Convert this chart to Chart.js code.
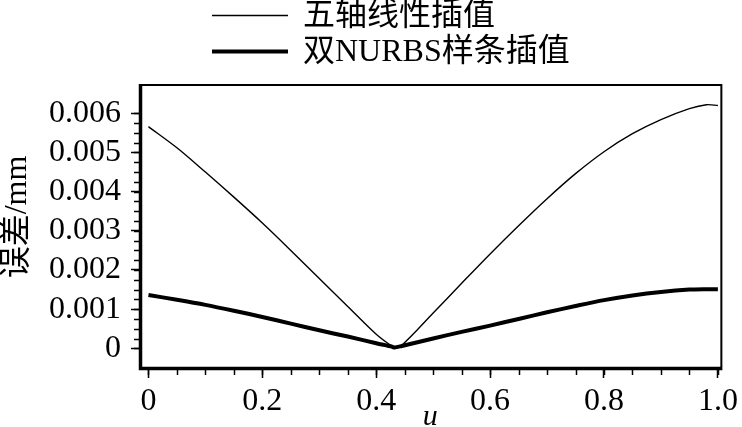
<!DOCTYPE html>
<html>
<head>
<meta charset="utf-8">
<script src="https://cdn.jsdelivr.net/npm/chart.js@4.4.1/dist/chart.umd.min.js"></script>
<style>
    body { margin: 0; background: #fff; }
</style>
</head>
<body>
<canvas id="myChart" width="742" height="427"></canvas>
<script>
// data
const uValues = [0, 0.05, 0.1, 0.15, 0.2, 0.25, 0.3, 0.35, 0.4, 0.428, 0.432, 0.445, 0.5, 0.55, 0.6, 0.65, 0.7, 0.75, 0.8, 0.85, 0.9, 0.95, 0.98, 1.0]
const linearError = [0.00566, 0.00512, 0.00450, 0.00386, 0.00320, 0.00250, 0.00178, 0.00107, 0.00036, 0.00005, 0.00004, 0.00008, 0.00090, 0.00166, 0.00241, 0.00313, 0.00382, 0.00446, 0.00502, 0.00548, 0.00584, 0.00612, 0.00622, 0.00620]
const nurbsError = [0.00136, 0.00124, 0.00111, 0.00096, 0.00080, 0.00063, 0.00046, 0.00030, 0.00013, 0.00004, 0.00002, 0.00006, 0.00025, 0.00042, 0.00058, 0.00075, 0.00092, 0.00108, 0.00123, 0.00135, 0.00144, 0.00150, 0.00151, 0.00151]
const seriesNames = ['五轴线性插值', '双NURBS样条插值']

const xTicks = [0, 0.2, 0.4, 0.6, 0.8, 1.0]
const xTickLabels = ['0', '0.2', '0.4', '0.6', '0.8', '1.0']
const yTicks = [0, 0.001, 0.002, 0.003, 0.004, 0.005, 0.006]
const yTickLabels = ['0', '0.001', '0.002', '0.003', '0.004', '0.005', '0.006']
const yTitle = '误差/mm'

const fontFamily = '"Liberation Serif", "Noto Sans CJK SC", serif'

// frame, minor ticks, y title and the legend
const framePlugin = {
    id: 'frame',
    afterDraw(chart) {
        const ctx = chart.ctx
        const area = chart.chartArea
        const xs = chart.scales.x
        const ys = chart.scales.y
        ctx.save()
        ctx.strokeStyle = '#000'
        ctx.fillStyle = '#000'

        // minor ticks
        ctx.lineWidth = 1.5
        ctx.beginPath()
        for (let v = 0; v <= 1.0001; v += 0.05) {
            const px = Math.round(xs.getPixelForValue(v)) + 0.5
            ctx.moveTo(px, area.bottom)
            ctx.lineTo(px, area.bottom + 8)
        }
        for (let v = 0; v <= 0.006001; v += 0.00025) {
            const py = Math.round(ys.getPixelForValue(v)) + 0.5
            ctx.moveTo(area.left, py)
            ctx.lineTo(area.left - 5, py)
        }
        ctx.stroke()

        // box round the plot
        ctx.lineWidth = 2
        ctx.beginPath()
        ctx.moveTo(area.left, area.top)
        ctx.lineTo(area.right, area.top)
        ctx.lineTo(area.right, area.bottom)
        ctx.stroke()
        ctx.lineWidth = 3.5
        ctx.beginPath()
        ctx.moveTo(area.left + 1.5, area.top - 1)
        ctx.lineTo(area.left + 1.5, area.bottom + 1.5)
        ctx.lineTo(area.right + 1, area.bottom + 1.5)
        ctx.stroke()

        // y title, a bit above the middle like the original
        ctx.save()
        ctx.translate(18, 217)
        ctx.rotate(-Math.PI / 2)
        ctx.font = '32px ' + fontFamily
        ctx.textAlign = 'center'
        ctx.textBaseline = 'middle'
        ctx.fillText(yTitle, 0, 0)
        ctx.restore()

        // legend
        const rows = [15.5, 51.5]
        chart.data.datasets.forEach((ds, i) => {
            ctx.lineWidth = ds.borderWidth
            ctx.beginPath()
            ctx.moveTo(212, rows[i])
            ctx.lineTo(288, rows[i])
            ctx.stroke()
            ctx.font = '32px ' + fontFamily
            ctx.textBaseline = 'middle'
            ctx.textAlign = 'left'
            ctx.fillText(ds.label, 303, rows[i] + 1)
        })
        ctx.restore()
    }
}

const chart1 = document.getElementById('myChart')
new Chart(chart1, {
    type: 'line',
    data: {
        datasets: [{
            label: seriesNames[0],
            data: uValues.map((u, i) => ({x: u, y: linearError[i]})),
            borderColor: '#000',
            borderWidth: 1.4,
            pointRadius: 0,
            tension: 0.3
        }, {
            label: seriesNames[1],
            data: uValues.map((u, i) => ({x: u, y: nurbsError[i]})),
            borderColor: '#000',
            borderWidth: 4,
            pointRadius: 0,
            tension: 0.3
        }]
    },
    options: {
        responsive: false,
        animation: false,
        devicePixelRatio: 1,
        layout: {
            padding: {top: 85, right: 19, left: 0, bottom: 0}
        },
        plugins: {
            legend: {display: false},
            tooltip: {enabled: false}
        },
        scales: {
            x: {
                type: 'linear',
                min: -0.0166,
                max: 1.0061,
                afterBuildTicks: s => { s.ticks = xTicks.map(v => ({value: v})) },
                afterFit: s => { s.height = 60 },
                ticks: {
                    callback: (v, i) => xTickLabels[i],
                    autoSkip: false,
                    maxRotation: 0,
                    padding: 4,
                    color: '#000',
                    font: {family: fontFamily, size: 32}
                },
                grid: {
                    drawOnChartArea: false,
                    tickLength: 11,
                    tickWidth: 1.5,
                    tickColor: '#000'
                },
                border: {display: false},
                title: {
                    display: true,
                    text: 'u',
                    color: '#000',
                    padding: 0,
                    font: {family: fontFamily, size: 30, style: 'italic', lineHeight: 0.65}
                }
            },
            y: {
                type: 'linear',
                min: -0.000477,
                max: 0.006723,
                afterBuildTicks: s => { s.ticks = yTicks.map(v => ({value: v})) },
                afterFit: s => { s.width = 139 },
                ticks: {
                    callback: (v, i) => yTickLabels[i],
                    padding: 10,
                    color: '#000',
                    font: {family: fontFamily, size: 32}
                },
                grid: {
                    drawOnChartArea: false,
                    tickLength: 8,
                    tickWidth: 1.5,
                    tickColor: '#000'
                },
                border: {display: false},
                title: {display: false}
            }
        }
    },
    plugins: [framePlugin]
})
</script>
</body>
</html>
